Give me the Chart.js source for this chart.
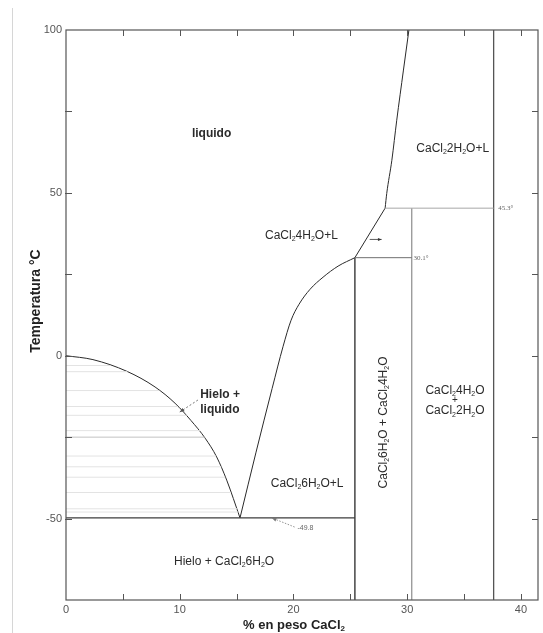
<!DOCTYPE html>
<html>
<head>
<meta charset="utf-8">
<script src="https://cdn.jsdelivr.net/npm/chart.js@4.4.0/dist/chart.umd.min.js"></script>
<style>
  html, body { margin: 0; padding: 0; background: #fff; }
  #wrap { position: relative; width: 543px; height: 633px; }
  #edge { position: absolute; left: 12px; top: 8px; bottom: 0; border-left: 1px solid #d6d6d6; }
  canvas { position: absolute; left: 0; top: 0; }
</style>
</head>
<body>
<div id="wrap"><div id="edge"></div><canvas id="c" width="543" height="633"></canvas></div>
<script>
// CaCl2 - H2O phase diagram: composition (% by weight CaCl2) vs temperature (°C)

// Liquidus of ice, from 0 °C down to the eutectic
const iceLiquidus = [[0, 0], [2.37, -1.2], [5.36, -4.8], [7.83, -9.6], [9.59, -14.6], [10.99, -19.9],
  [12.23, -25.3], [13.25, -31.1], [14.13, -38.2], [15.3, -49.8]];
// Liquidus of CaCl2·6H2O, from the eutectic up to the 30.1 °C peritectic
const hexahydrateLiquidus = [[15.3, -49.8], [16.71, -29.6], [18.12, -10.1], [19.09, 2.9],
  [19.79, 10.9], [20.49, 15.8], [21.46, 20.4], [22.6, 24.1], [23.92, 27.5], [25.4, 30.1]];
// Liquidus of CaCl2·4H2O, between the two peritectics
const tetrahydrateLiquidus = [[25.4, 30.1], [28.06, 45.3]];
// Liquidus of CaCl2·2H2O, above 45.3 °C
const dihydrateLiquidus = [[28.06, 45.3], [28.2, 49.8], [28.65, 60.0], [29.08, 72.3],
  [29.67, 87.7], [30.15, 100]];

// Invariant temperatures and hydrate compositions
const eutecticT = -49.8;
const peritecticLowT = 30.1;
const peritecticHighT = 45.3;
const hexahydrateX = 25.4;
const tetrahydrateX = 30.4;
const dihydrateX = 37.6;

// Tie lines shading the ice + liquid field: temperature and end composition on the liquidus
const tieLineTemps = [-3.0, -4.9, -10.7, -15.6, -18.3, -23.0, -25.0, -30.8, -34.1, -37.3, -42.0, -47.0, -48.0];
const tieLineEnds  = [3.9, 5.4, 8.2, 9.85, 10.6, 11.8, 12.2, 13.2, 13.65, 14.0, 14.5, 15.05, 15.15];

// Axis ticks
const xTickLabels = [0, 10, 20, 30, 40];
const yTickLabels = [-50, 0, 50, 100];
const xTickMarks = [5, 10, 15, 20, 25, 30, 35, 40];
const yTickMarks = [-50, -25, 0, 25, 50, 75];

const FONT = '"Liberation Sans", Arial, Helvetica, sans-serif';

// Field labels (a "_" marks the next character as a subscript)
const fieldLabels = [
  { text: 'liquido', x: 12.8, y: 68.3, bold: true },
  { text: 'CaCl_22H_2O+L', x: 34.0, y: 63.7 },
  { text: 'CaCl_24H_2O+L', x: 20.7, y: 37.0 },
  { text: 'Hielo +', x: 11.8, y: -12.0, bold: true, align: 'left' },
  { text: 'liquido', x: 11.8, y: -16.6, bold: true, align: 'left' },
  { text: 'CaCl_26H_2O+L', x: 21.2, y: -39.2 },
  { text: 'Hielo + CaCl_26H_2O', x: 13.9, y: -63.3 },
  { text: 'CaCl_24H_2O', x: 34.2, y: -10.8 },
  { text: '+', x: 34.2, y: -13.8, size: 10 },
  { text: 'CaCl_22H_2O', x: 34.2, y: -17.0 },
  { text: 'CaCl_26H_2O + CaCl_24H_2O', x: 27.9, y: -20.5, rotate: true }
];
// Small temperature notes
const tempNotes = [
  { text: peritecticHighT + '°', x: 38.0, y: peritecticHighT, serif: true },
  { text: peritecticLowT + '°', x: 30.55, y: peritecticLowT, serif: true },
  { text: '-' + Math.abs(eutecticT), x: 20.35, y: -52.8 }
];

function lineSet(data, color, width, extra) {
  return Object.assign({
    data: data.map(p => ({ x: p[0], y: p[1] })),
    showLine: true, pointRadius: 0, borderColor: color, borderWidth: width, fill: false
  }, extra || {});
}

const datasets = [];
tieLineTemps.forEach((t, i) => {
  datasets.push(lineSet([[0, t], [tieLineEnds[i], t]], t === -25.0 ? '#c2c2c2' : '#e3e3e3', 1));
});
datasets.push(lineSet([[0, eutecticT], [hexahydrateX, eutecticT]], '#3c3c3c', 1.4));
datasets.push(lineSet([[hexahydrateX, peritecticLowT], [tetrahydrateX, peritecticLowT]], '#707070', 1));
datasets.push(lineSet([[tetrahydrateLiquidus[1][0], peritecticHighT], [dihydrateX, peritecticHighT]], '#a8a8a8', 1));
datasets.push(lineSet([[hexahydrateX, -75], [hexahydrateX, peritecticLowT]], '#454545', 1.5));
datasets.push(lineSet([[tetrahydrateX, -75], [tetrahydrateX, peritecticHighT]], '#8c8c8c', 1.2));
datasets.push(lineSet([[dihydrateX, -75], [dihydrateX, 100]], '#555555', 1.3));
datasets.push(lineSet(iceLiquidus, '#2a2a2a', 1, { cubicInterpolationMode: 'monotone' }));
datasets.push(lineSet(hexahydrateLiquidus, '#2a2a2a', 1, { cubicInterpolationMode: 'monotone' }));
datasets.push(lineSet(tetrahydrateLiquidus, '#2a2a2a', 1));
datasets.push(lineSet(dihydrateLiquidus, '#2a2a2a', 1, { cubicInterpolationMode: 'monotone' }));

function parseRich(str) {
  const segs = [];
  for (let i = 0; i < str.length; i++) {
    if (str[i] === '_' && i + 1 < str.length) { segs.push({ t: str[i + 1], sub: true }); i++; }
    else {
      const last = segs[segs.length - 1];
      if (last && !last.sub) last.t += str[i]; else segs.push({ t: str[i], sub: false });
    }
  }
  return segs;
}

function drawRich(ctx, str, x, y, o) {
  const size = o.size || 12, weight = o.bold ? 'bold ' : '';
  const family = o.serif ? '"Liberation Serif", "Times New Roman", serif' : FONT;
  const segs = parseRich(str);
  let total = 0;
  segs.forEach(s => {
    s.size = s.sub ? Math.round(size * 0.62) : size;
    ctx.font = weight + s.size + 'px ' + family;
    s.w = ctx.measureText(s.t).width;
    total += s.w;
  });
  let cx = o.align === 'left' ? x : x - total / 2;
  ctx.fillStyle = o.color || '#2b2b2b';
  ctx.textBaseline = 'middle';
  ctx.textAlign = 'left';
  segs.forEach(s => {
    ctx.font = weight + s.size + 'px ' + family;
    ctx.fillText(s.t, cx, s.sub ? y + size * 0.3 : y);
    cx += s.w;
  });
}

function arrow(ctx, x1, y1, x2, y2, head, color, dash) {
  ctx.save();
  ctx.strokeStyle = color; ctx.fillStyle = color; ctx.lineWidth = 0.8;
  ctx.setLineDash(dash || []);
  ctx.beginPath(); ctx.moveTo(x1, y1); ctx.lineTo(x2, y2); ctx.stroke();
  ctx.setLineDash([]);
  const a = Math.atan2(y2 - y1, x2 - x1);
  ctx.beginPath();
  ctx.moveTo(x2, y2);
  ctx.lineTo(x2 - head * Math.cos(a - 0.4), y2 - head * Math.sin(a - 0.4));
  ctx.lineTo(x2 - head * Math.cos(a + 0.4), y2 - head * Math.sin(a + 0.4));
  ctx.closePath(); ctx.fill();
  ctx.restore();
}

const diagramDecor = {
  id: 'diagramDecor',
  afterDatasetsDraw(chart) {
    const { ctx, chartArea: ca, scales: { x, y } } = chart;
    ctx.save();
    // frame
    ctx.strokeStyle = '#555'; ctx.lineWidth = 1.2;
    ctx.strokeRect(ca.left, ca.top, ca.right - ca.left, ca.bottom - ca.top);
    // inward tick marks on all four sides
    ctx.lineWidth = 1;
    const tl = 6;
    xTickMarks.forEach(v => {
      const px = Math.round(x.getPixelForValue(v)) + 0.5;
      ctx.beginPath();
      ctx.moveTo(px, ca.bottom); ctx.lineTo(px, ca.bottom - tl);
      ctx.moveTo(px, ca.top); ctx.lineTo(px, ca.top + tl);
      ctx.stroke();
    });
    yTickMarks.forEach(v => {
      const py = Math.round(y.getPixelForValue(v)) + 0.5;
      ctx.beginPath();
      ctx.moveTo(ca.left - 1, py); ctx.lineTo(ca.left + tl, py);
      ctx.moveTo(ca.right, py); ctx.lineTo(ca.right - tl, py);
      ctx.stroke();
    });
    // field labels
    fieldLabels.forEach(l => {
      const px = x.getPixelForValue(l.x), py = y.getPixelForValue(l.y);
      if (l.rotate) {
        ctx.save(); ctx.translate(px, py); ctx.rotate(-Math.PI / 2);
        drawRich(ctx, l.text, 0, 0, { size: 12 });
        ctx.restore();
      } else {
        drawRich(ctx, l.text, px, py, { size: l.size || 12, bold: l.bold, align: l.align });
      }
    });
    // temperature notes
    tempNotes.forEach(n => {
      drawRich(ctx, n.text, x.getPixelForValue(n.x), y.getPixelForValue(n.y),
        { size: 7, serif: n.serif, align: 'left', color: '#666' });
    });
    // leaders and arrows
    arrow(ctx, x.getPixelForValue(11.6), y.getPixelForValue(-13.6),
      x.getPixelForValue(10.0), y.getPixelForValue(-17.3), 5, '#555', [2, 2]);
    arrow(ctx, x.getPixelForValue(20.1), y.getPixelForValue(-52.6),
      x.getPixelForValue(18.1), y.getPixelForValue(eutecticT), 5, '#777', [1.5, 1.5]);
    arrow(ctx, x.getPixelForValue(26.7), y.getPixelForValue(35.7),
      x.getPixelForValue(27.75), y.getPixelForValue(35.7), 4, '#333');
    ctx.restore();
  },
  afterDraw(chart) {
    const { ctx, chartArea: ca } = chart;
    ctx.save();
    drawRich(ctx, '% en peso CaCl_2', (ca.left + ca.right) / 2 - 8, 625, { size: 13, bold: true, color: '#222' });
    ctx.translate(36, 301); ctx.rotate(-Math.PI / 2);
    drawRich(ctx, 'Temperatura °C', 0, 0, { size: 14, bold: true, color: '#222' });
    ctx.restore();
  }
};

new Chart(document.getElementById('c'), {
  type: 'scatter',
  data: { datasets },
  options: {
    responsive: false,
    animation: false,
    devicePixelRatio: 1,
    layout: { padding: { top: 30, right: 5, left: 0, bottom: 0 } },
    plugins: { legend: { display: false }, tooltip: { enabled: false } },
    scales: {
      x: {
        type: 'linear', min: 0, max: 41.5,
        grid: { display: false, drawTicks: false }, border: { display: false },
        afterBuildTicks: s => { s.ticks = xTickLabels.map(v => ({ value: v })); },
        afterFit: s => { s.height = 33; },
        ticks: { padding: 3, color: '#555', font: { family: FONT, size: 11 }, maxRotation: 0 }
      },
      y: {
        type: 'linear', min: -75, max: 100,
        grid: { display: false, drawTicks: false }, border: { display: false },
        afterBuildTicks: s => { s.ticks = yTickLabels.map(v => ({ value: v })); },
        afterFit: s => { s.width = 66; },
        ticks: { padding: 4, color: '#555', font: { family: FONT, size: 11 } }
      }
    }
  },
  plugins: [diagramDecor]
});
</script>
</body>
</html>
